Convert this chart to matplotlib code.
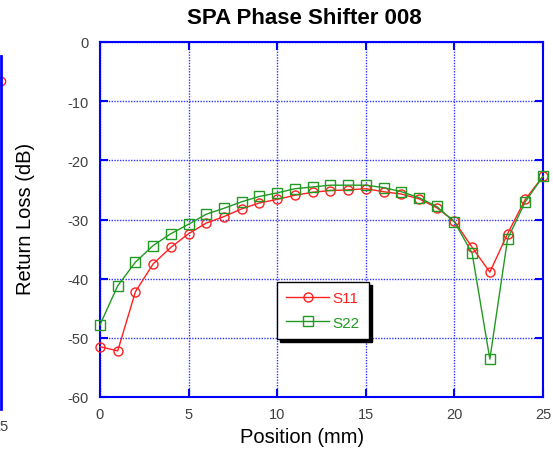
import numpy as np
import matplotlib
matplotlib.use('Agg')
import matplotlib.pyplot as plt

plt.rcParams['font.family'] = ['Liberation Sans', 'DejaVu Sans']
plt.rcParams['axes.unicode_minus'] = False

# position along the shifter (mm)
position = np.arange(0, 26)

s11 = [-51.5, -52.2, -42.2, -37.5, -34.7, -32.4, -30.6, -29.5, -28.2, -27.2,
       -26.6, -25.9, -25.4, -25.1, -25.0, -24.8, -25.3, -25.7, -26.5, -28.0,
       -30.3, -34.7, -38.9, -32.4, -26.6, -22.7]
s22 = [-47.8, -41.2, -37.2, -34.4, -32.4, -30.8, -29.1, -28.1, -27.0, -26.1,
       -25.5, -24.8, -24.5, -24.2, -24.2, -24.2, -24.6, -25.3, -26.3, -27.8,
       -30.4, -35.7, -53.6, -33.3, -27.0, -22.7]

# neighbouring chart, cut off at the left edge
left_x = [25]
left_y = [-4.2]

x_ticks = [0, 5, 10, 15, 20, 25]
y_ticks = [0, -10, -20, -30, -40, -50, -60]

W, H = 553, 452
fig = plt.figure(figsize=(W / 100, H / 100), dpi=100)

blue = '#0000ff'
red = '#ff2020'
green = '#229922'
tick_col = '#404040'

# partial chart on the left
axl = fig.add_axes([-0.6, 42 / H, 0.6 + 0.5 / W, 353 / H])
axl.set_xlim(0, 25)
axl.set_ylim(-60, 0)
axl.plot(left_x, left_y, 'o', mfc='none', mec=red, ms=6, mew=1, clip_on=False)
for s in ['top', 'bottom', 'left']:
    axl.spines[s].set_visible(False)
axl.spines['right'].set_color(blue)
axl.spines['right'].set_linewidth(2)
axl.set_yticks([])
axl.set_xticks([25])
axl.set_xticklabels(['25'])
axl.tick_params(axis='x', length=0, labelsize=10.5, labelcolor=tick_col, pad=7)

# main chart
ax = fig.add_axes([100 / W, (H - 398) / H, 443 / W, 355 / H])
ax.plot(position, s11, '-o', color=red, mfc='none', mec=red, ms=6.5, mew=1,
        lw=1, label='S11', clip_on=False, zorder=3)
ax.plot(position, s22, '-s', color=green, mfc='none', mec=green, ms=6.5, mew=1,
        lw=1, label='S22', clip_on=False, zorder=3)

ax.set_xlim(0, 25)
ax.set_ylim(-60, 0)
ax.set_xticks(x_ticks)
ax.set_yticks(y_ticks)
ax.grid(True, color='#3333ff', linestyle=(0, (1, 1)), linewidth=1)
for s in ax.spines.values():
    s.set_color(blue)
    s.set_linewidth(1.5)
ax.tick_params(direction='in', length=6, width=1.5, color=blue,
               top=True, right=True, labelsize=10.5, labelcolor=tick_col)
ax.tick_params(axis='x', pad=7)
ax.tick_params(axis='y', pad=8)

ax.set_xlabel('Position (mm)', fontsize=14.5, va='center')
ax.xaxis.set_label_coords((302 - 100) / 443, -(438 - 398) / 355)
ax.set_ylabel('Return Loss (dB)', fontsize=14.5, va='center')
ax.yaxis.set_label_coords((26 - 100) / 443, (398 - 219) / 355)
fig.text(304 / W, 1 - 18 / H, 'SPA Phase Shifter 008', fontsize=16,
         fontweight='bold', ha='center', va='center')

leg = ax.legend(loc='upper left', bbox_to_anchor=(0.3995, 0.324),
                fancybox=False, shadow={'color': 'black', 'alpha': 1},
                edgecolor='black', framealpha=1, fontsize=11,
                handlelength=2.8, borderpad=0.6, labelspacing=0.7,
                handletextpad=0.25, borderaxespad=0)
leg.get_frame().set_linewidth(1)
for txt, col in zip(leg.get_texts(), [red, green]):
    txt.set_color(col)

fig.savefig('out.png', dpi=100)
